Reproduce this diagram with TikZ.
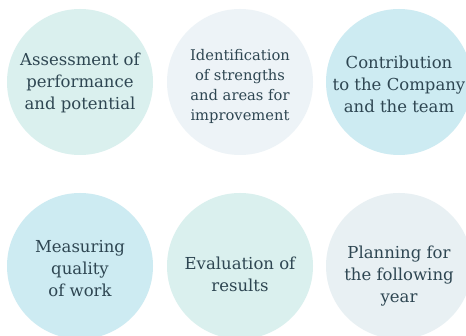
\documentclass[tikz,border=0pt]{standalone}
\usepackage{fontspec}
\setmainfont{DejaVu Serif}
\definecolor{txt}{HTML}{2E4652}
\definecolor{cteal}{HTML}{DAF0EE}
\definecolor{cpale}{HTML}{EDF3F7}
\definecolor{cblue}{HTML}{CDEBF2}
\definecolor{cgrey}{HTML}{E8F0F3}
\tikzset{
  disc/.style={circle, minimum size=146pt, inner sep=0pt},
  label/.style={align=center, text=txt, inner sep=0pt,
    font=\fontsize{16.5}{22}\selectfont},
  smalllabel/.style={label, font=\fontsize{14.7}{20}\selectfont}
}
\begin{document}
\begin{tikzpicture}[x=1pt,y=-1pt]
\useasboundingbox (0,0) rectangle (466,336);
\clip (0,0) rectangle (466,336);
\fill[white] (0,0) rectangle (466,336);
\node[disc, fill=cteal] (a) at (80,82) {};
\node[label] (at) at ([yshift=-1pt]a.center) {Assessment of\\performance\\and potential};
\node[disc, fill=cpale] (b) at (240,82) {};
\node[smalllabel] (bt) at ([yshift=-4pt]b.center) {Identification\\of strengths\\and areas for\\improvement};
\node[disc, fill=cblue] (c) at (399,82) {};
\node[label] (ct) at ([yshift=-2pt]c.center) {Contribution\\to the Company\\and the team};
\node[disc, fill=cblue] (d) at (80,266) {};
\node[label] (dt) at ([yshift=-3pt]d.center) {Measuring\\quality\\of work};
\node[disc, fill=cteal] (e) at (240,266) {};
\node[label] (et) at ([yshift=-8pt]e.center) {Evaluation of\\results};
\node[disc, fill=cgrey] (f) at (399,266) {};
\node[label] (ft) at ([yshift=-10pt]f.center) {Planning for\\the following\\year};
\end{tikzpicture}
\end{document}
